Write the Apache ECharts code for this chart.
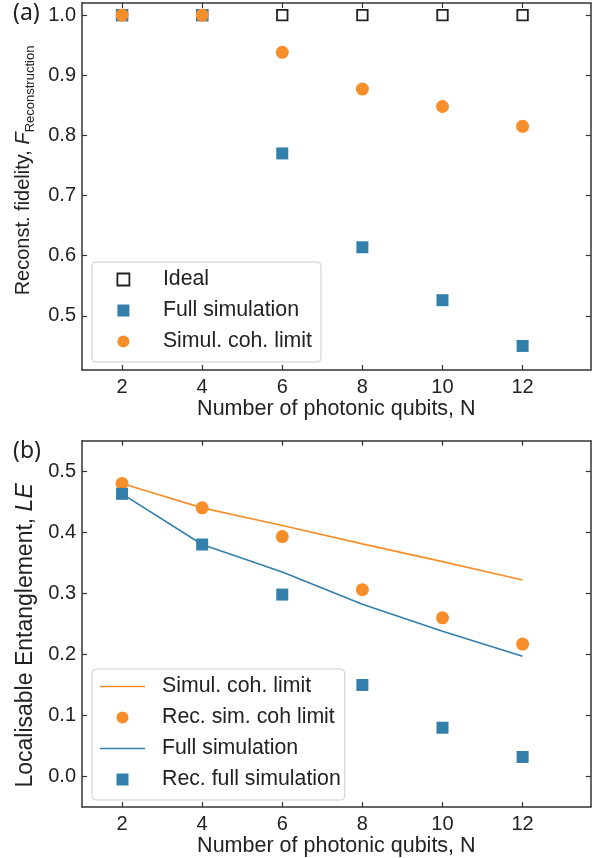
<!DOCTYPE html>
<html><head><meta charset="utf-8">
<script src="https://cdn.jsdelivr.net/npm/echarts@6/dist/echarts.min.js"></script>
<style>html,body{margin:0;padding:0;background:#fff}#c{width:609px;height:858px}</style>
</head><body><div id="c"></div>
<script>
// ---- data ----
const nQubits = [2, 4, 6, 8, 10, 12];
const xTicks = [2, 4, 6, 8, 10, 12];
const yTicksA = [0.5, 0.6, 0.7, 0.8, 0.9, 1.0];
const yTicksB = [0.0, 0.1, 0.2, 0.3, 0.4, 0.5];
// panel (a): reconstruction fidelity
const idealFid = [1.0, 1.0, 1.0, 1.0, 1.0, 1.0];
const fullSimFid = [1.0, 1.0, 0.770, 0.614, 0.526, 0.450];
const cohLimitFid = [1.0, 1.0, 0.938, 0.877, 0.848, 0.815];
// panel (b): localisable entanglement
const cohLimitLE = [0.480, 0.440, 0.411, 0.381, 0.352, 0.322];
const recCohLimitLE = [0.480, 0.440, 0.393, 0.306, 0.260, 0.217];
const fullSimLE = [0.463, 0.380, 0.335, 0.282, 0.238, 0.197];
const recFullSimLE = [0.463, 0.380, 0.298, 0.150, 0.080, 0.032];

const legendNamesA = ['Ideal', 'Full simulation', 'Simul. coh. limit'];
const legendNamesB = ['Simul. coh. limit', 'Rec. sim. coh limit', 'Full simulation', 'Rec. full simulation'];

const pts = (arr) => nQubits.map((n, i) => [n, arr[i]]);

const FONT = 'Liberation Sans';
const ORANGE = '#F88E2A';
const BLUE = '#327FAC';
const AX = '#333333';
const TXT = '#222222';

const axisLine = { show: true, onZero: false, lineStyle: { color: AX, width: 1.5 } };
function tick(vals) { return { show: true, inside: true, length: 5, customValues: vals, lineStyle: { color: AX, width: 1.2 } }; }

function xAxes(g) {
  return [
    { type: 'value', gridIndex: g, position: 'bottom', min: 1, max: 13.7,
      axisLine, axisTick: tick(xTicks), splitLine: { show: false },
      axisLabel: { show: true, customValues: xTicks, margin: 7, fontFamily: FONT, fontSize: 20, color: TXT },
      name: 'Number of photonic qubits, N', nameLocation: 'middle', nameGap: 20,
      nameTextStyle: { fontFamily: FONT, fontSize: 21.5, color: TXT, verticalAlign: 'top' } },
    { type: 'value', gridIndex: g, position: 'top', min: 1, max: 13.7,
      axisLine, axisTick: tick(xTicks), splitLine: { show: false }, axisLabel: { show: false } }
  ];
}
function yAxes(g, min, max, ticks, name, nameStyle, nameGap) {
  return [
    { type: 'value', gridIndex: g, position: 'left', min, max,
      axisLine, axisTick: tick(ticks), splitLine: { show: false },
      axisLabel: { show: true, customValues: ticks, margin: 6, fontFamily: FONT, fontSize: 20, color: TXT,
        formatter: (v) => v.toFixed(1) },
      name, nameLocation: 'middle', nameGap, nameRotate: 90,
      nameTextStyle: nameStyle },
    { type: 'value', gridIndex: g, position: 'right', min, max,
      axisLine, axisTick: tick(ticks), splitLine: { show: false }, axisLabel: { show: false } }
  ];
}

const nameStyleA = {
  fontFamily: FONT, fontSize: 20, color: TXT, padding: [0, 0, 0, 32],
  rich: {
    n: { fontFamily: FONT, fontSize: 20, color: TXT },
    i: { fontFamily: FONT, fontSize: 20, color: TXT, fontStyle: 'italic' },
    s: { fontFamily: FONT, fontSize: 13, color: TXT, verticalAlign: 'bottom', padding: [0, 0, -4, 0] }
  }
};
const nameStyleB = {
  fontFamily: FONT, fontSize: 23, color: TXT, padding: [0, 23, 0, 0],
  rich: {
    n: { fontFamily: FONT, fontSize: 23, color: TXT },
    i: { fontFamily: FONT, fontSize: 23, color: TXT, fontStyle: 'italic' }
  }
};

const SQ = 'path://M0,0H10V10H0Z';
const LN = 'path://M0,0H45V1.6H0Z';

function legendCfg(items, left, top, padLeft, padRight) {
  return {
    orient: 'vertical', left, top, data: items,
    padding: [7, padRight, 10, padLeft], itemWidth: 45, itemHeight: 12, itemGap: 10,
    backgroundColor: 'rgba(255,255,255,0.85)', borderColor: '#cccccc', borderWidth: 1, borderRadius: 4,
    selectedMode: false,
    formatter: (n) => n.replace(/^[ab]:/, ''),
    textStyle: { fontFamily: FONT, fontSize: 21.3, color: TXT, lineHeight: 20, padding: [0, 0, 0, 12] }
  };
}

const chart = echarts.init(document.getElementById('c'), null, { renderer: 'canvas' });
chart.setOption({
  animation: false,
  backgroundColor: '#ffffff',
  title: [
    { text: '(a)', left: 13, top: 2, padding: 0, textStyle: { fontFamily: 'Noto Sans', fontSize: 23, fontWeight: 'normal', color: TXT } },
    { text: '(b)', left: 13, top: 440, padding: 0, textStyle: { fontFamily: 'Noto Sans', fontSize: 23, fontWeight: 'normal', color: TXT } }
  ],
  grid: [
    { left: 82, top: 3, width: 508.7, height: 367 },
    { left: 82, top: 440.7, width: 508.7, height: 367 }
  ],
  xAxis: [...xAxes(0), ...xAxes(1)],
  yAxis: [
    ...yAxes(0, 0.41, 1.02, yTicksA, '{n|Reconst. fidelity, }{i|F}{s|Reconstruction}', nameStyleA, 41),
    ...yAxes(1, -0.05, 0.55, yTicksB, '{n|Localisable Entanglement, }{i|LE}', nameStyleB, 41)
  ],
  legend: [
    legendCfg([
      { name: 'a:' + legendNamesA[0], icon: SQ, itemStyle: { color: '#ffffff', borderColor: '#222222', borderWidth: 1.8, opacity: 1 } },
      { name: 'a:' + legendNamesA[1], icon: SQ, itemStyle: { color: BLUE, borderWidth: 0, opacity: 1 } },
      { name: 'a:' + legendNamesA[2], icon: 'circle', itemStyle: { color: ORANGE, borderWidth: 0, opacity: 1 } }
    ], 92, 262, 24.5, 9),
    legendCfg([
      { name: 'b:' + legendNamesB[0], icon: LN, itemStyle: { color: ORANGE, borderWidth: 0, opacity: 1 } },
      { name: 'b:' + legendNamesB[1], icon: 'circle', itemStyle: { color: ORANGE, borderWidth: 0, opacity: 1 } },
      { name: 'b:' + legendNamesB[2], icon: LN, itemStyle: { color: BLUE, borderWidth: 0, opacity: 1 } },
      { name: 'b:' + legendNamesB[3], icon: SQ, itemStyle: { color: BLUE, borderWidth: 0, opacity: 1 } }
    ], 92, 669, 8, 4)
  ],
  series: [
    { name: 'a:Ideal', type: 'scatter', xAxisIndex: 0, yAxisIndex: 0, symbol: 'rect', symbolSize: 10.5,
      itemStyle: { color: '#ffffff', borderColor: '#222222', borderWidth: 1.8, opacity: 1 }, data: pts(idealFid) },
    { name: 'a:Full simulation', type: 'scatter', xAxisIndex: 0, yAxisIndex: 0, symbol: 'rect', symbolSize: 12,
      itemStyle: { color: BLUE, opacity: 1 }, data: pts(fullSimFid) },
    { name: 'a:Simul. coh. limit', type: 'scatter', xAxisIndex: 0, yAxisIndex: 0, symbol: 'circle', symbolSize: 13,
      itemStyle: { color: ORANGE, opacity: 1 }, data: pts(cohLimitFid) },

    { name: 'b:Simul. coh. limit', type: 'line', xAxisIndex: 2, yAxisIndex: 2, symbol: 'none', showSymbol: false,
      lineStyle: { color: ORANGE, width: 1.6 }, itemStyle: { color: ORANGE }, data: pts(cohLimitLE) },
    { name: 'b:Rec. sim. coh limit', type: 'scatter', xAxisIndex: 2, yAxisIndex: 2, symbol: 'circle', symbolSize: 13,
      itemStyle: { color: ORANGE, opacity: 1 }, data: pts(recCohLimitLE) },
    { name: 'b:Full simulation', type: 'line', xAxisIndex: 2, yAxisIndex: 2, symbol: 'none', showSymbol: false,
      lineStyle: { color: BLUE, width: 1.6 }, itemStyle: { color: BLUE }, data: pts(fullSimLE) },
    { name: 'b:Rec. full simulation', type: 'scatter', xAxisIndex: 2, yAxisIndex: 2, symbol: 'rect', symbolSize: 12,
      itemStyle: { color: BLUE, opacity: 1 }, data: pts(recFullSimLE) }
  ]
});
</script>
</body></html>
